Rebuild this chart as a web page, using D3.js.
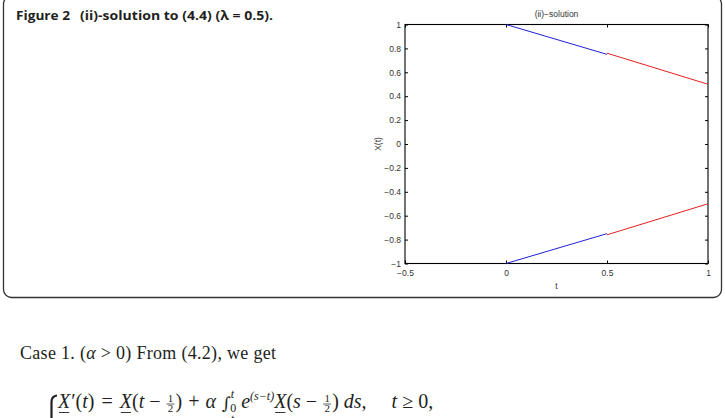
<!DOCTYPE html>
<html lang="en">
<head>
<meta charset="UTF-8">
<title>Figure 2 (ii)-solution</title>
<script src="https://d3js.org/d3.v7.min.js"></script>
<style>
    body { margin: 0; background: #fff; }
    svg { display: block; }
    .axis text { font-family: "Liberation Sans", Arial, sans-serif; font-size: 8.5px; fill: #333; }
    .axis line { stroke: #000; stroke-width: 1; }
    .serif { font-family: "Liberation Serif", "DejaVu Serif", serif; fill: #231f20; }
</style>
</head>
<body>
<svg id="page" width="725" height="418"></svg>
<script>
    // datos
    const xTicks = [-0.5, 0, 0.5, 1];
    const yTicks = [-1, -0.8, -0.6, -0.4, -0.2, 0, 0.2, 0.4, 0.6, 0.8, 1];
    const tFirst = [0, 0.5];       // primer intervalo (azul)
    const tSecond = [0.5, 1];      // segundo intervalo (rojo)
    const upperFirst = [1, 0.75];
    const upperSecond = [0.76, 0.5];
    const lowerFirst = [-1, -0.75];
    const lowerSecond = [-0.76, -0.5];

    const svg = d3.select("#page");

    // marco redondeado de la figura
    svg.append("rect")
        .attr("x", 3.5).attr("y", -4)
        .attr("width", 718).attr("height", 301.5)
        .attr("rx", 8).attr("ry", 8)
        .attr("fill", "none")
        .attr("stroke", "#333")
        .attr("stroke-width", 1.3);

    svg.append("text")
        .attr("x", 16).attr("y", 20)
        .attr("font-family", "'Open Sans', 'Noto Sans', sans-serif")
        .attr("font-weight", 700)
        .attr("font-size", 12.5)
        .attr("fill", "#231f20")
        .call(t => {
            t.append("tspan").attr("textLength", 54).attr("lengthAdjust", "spacingAndGlyphs").text("Figure 2");
            t.append("tspan").attr("x", 80).attr("textLength", 193).attr("lengthAdjust", "spacingAndGlyphs")
                .text("(ii)-solution to (4.4) (λ = 0.5).");
        });

    // grafico
    const plot = { left: 405, right: 708, top: 24.5, bottom: 263.5 };
    const x = d3.scaleLinear().domain([-0.5, 1]).range([plot.left, plot.right]);
    const y = d3.scaleLinear().domain([-1, 1]).range([plot.bottom, plot.top]);
    const fmt = d => d3.format("~g")(d);

    svg.append("g").attr("class", "axis")
        .attr("transform", `translate(0,${plot.bottom})`)
        .call(d3.axisBottom(x).tickValues(xTicks).tickSize(-3).tickPadding(6).tickSizeOuter(0).tickFormat(fmt))
        .call(g => g.select(".domain").remove());
    svg.append("g").attr("class", "axis")
        .attr("transform", `translate(0,${plot.top})`)
        .call(d3.axisTop(x).tickValues(xTicks).tickSize(-3).tickSizeOuter(0).tickFormat(""))
        .call(g => g.select(".domain").remove());
    svg.append("g").attr("class", "axis")
        .attr("transform", `translate(${plot.left},0)`)
        .call(d3.axisLeft(y).tickValues(yTicks).tickSize(-3).tickPadding(4).tickSizeOuter(0).tickFormat(fmt))
        .call(g => g.select(".domain").remove());
    svg.append("g").attr("class", "axis")
        .attr("transform", `translate(${plot.right},0)`)
        .call(d3.axisRight(y).tickValues(yTicks).tickSize(-3).tickSizeOuter(0).tickFormat(""))
        .call(g => g.select(".domain").remove());

    svg.append("rect")
        .attr("x", plot.left).attr("y", plot.top)
        .attr("width", plot.right - plot.left).attr("height", plot.bottom - plot.top)
        .attr("fill", "none").attr("stroke", "#000").attr("stroke-width", 1.1);

    const line = d3.line().x(d => x(d[0])).y(d => y(d[1]));
    const segs = [
        { t: tFirst, v: upperFirst, c: "#1f1fd6" },
        { t: tFirst, v: lowerFirst, c: "#1f1fd6" },
        { t: tSecond, v: upperSecond, c: "#e3211f" },
        { t: tSecond, v: lowerSecond, c: "#e3211f" }
    ];
    segs.forEach(s => {
        svg.append("path")
            .datum(d3.zip(s.t, s.v))
            .attr("d", line)
            .attr("fill", "none")
            .attr("stroke", s.c)
            .attr("stroke-width", 1);
    });

    const lbl = { "font-family": "'Liberation Sans', Arial, sans-serif", "font-size": 8.5, fill: "#333", "text-anchor": "middle" };
    const addLabel = (tx, ty, s, rot) => {
        const t = svg.append("text").attr("x", tx).attr("y", ty).text(s);
        Object.entries(lbl).forEach(([k, v]) => t.attr(k, v));
        if (rot) t.attr("transform", `rotate(-90,${tx},${ty})`);
        return t;
    };
    addLabel((plot.left + plot.right) / 2, 17, "(ii)−solution");
    addLabel((plot.left + plot.right) / 2, 289, "t");
    addLabel(381, 144, "X(t)", true);

    // texto debajo de la figura
    const body = svg.append("g").attr("class", "serif");
    body.append("text")
        .attr("x", 20).attr("y", 359)
        .attr("font-size", 18)
        .attr("textLength", 256).attr("lengthAdjust", "spacing")
        .call(t => {
            t.append("tspan").text("Case 1. (");
            t.append("tspan").attr("font-style", "italic").text("α");
            t.append("tspan").text(" > 0) From (4.2), we get");
        });

    // ecuacion, se va colocando pieza por pieza
    function flow(y0, x0, parts) {
        let cx = x0;
        parts.forEach(p => {
            if (p.frac) {
                const w = 8;
                body.append("text").attr("x", cx + w / 2).attr("y", y0 - 6).attr("font-size", 11)
                    .attr("text-anchor", "middle").text(p.frac[0]);
                body.append("text").attr("x", cx + w / 2).attr("y", y0 + 4).attr("font-size", 11)
                    .attr("text-anchor", "middle").text(p.frac[1]);
                body.append("line").attr("x1", cx).attr("x2", cx + w)
                    .attr("y1", y0 - 4).attr("y2", y0 - 4)
                    .attr("stroke", "#231f20").attr("stroke-width", 0.7);
                cx += w + 1;
                return;
            }
            const t = body.append("text")
                .attr("x", cx).attr("y", y0 + (p.dy || 0))
                .attr("font-size", p.size || 20)
                .attr("font-style", p.it ? "italic" : "normal")
                .style("white-space", "pre")
                .text(p.s);
            if (p.fam) t.attr("font-family", p.fam);
            const w = t.node().getComputedTextLength();
            if (p.u) {
                body.append("line").attr("x1", cx + 1).attr("x2", cx + w - 1)
                    .attr("y1", y0 + 4.5).attr("y2", y0 + 4.5)
                    .attr("stroke", "#231f20").attr("stroke-width", 0.9);
            }
            cx += w + (p.gap || 0);
        });
        return cx;
    }

    const rowOne = [
        { s: "X", it: true, u: true, gap: 1 }, { s: "′(" }, { s: "t", it: true }, { s: ") ", gap: 2 }, { s: "= ", gap: 2 },
        { s: "X", it: true, u: true }, { s: "(" }, { s: "t", it: true }, { s: " − ", gap: 1 }, { frac: ["1", "2"] },
        { s: ") ", gap: 1 }, { s: "+ ", gap: 1 }, { s: "α", it: true }, { s: " ", gap: 1 },
        { s: "∫", fam: "'DejaVu Serif', serif", size: 17, dy: 1, gap: 0 },
        { s: "t", it: true, size: 12, dy: -10, gap: -4 },
        { s: "0", size: 12, dy: 4, gap: 5 },
        { s: "e", it: true }, { s: "(s−t)", it: true, size: 12, dy: -8 },
        { s: "X", it: true, u: true }, { s: "(" }, { s: "s", it: true }, { s: " − ", gap: 1 }, { frac: ["1", "2"] },
        { s: ") " }, { s: "ds", it: true }, { s: ",     " }, { s: "t", it: true }, { s: " ≥ 0," }
    ];
    flow(408, 58, rowOne);
    flow(433, 58, rowOne.slice(0, 17));

    // llave grande a la izquierda
    body.append("path")
        .attr("d", "M57,395.5 C53,396 51.5,398 51.5,402 L51.5,420")
        .attr("fill", "none")
        .attr("stroke", "#231f20")
        .attr("stroke-width", 2.2);
</script>
</body>
</html>
